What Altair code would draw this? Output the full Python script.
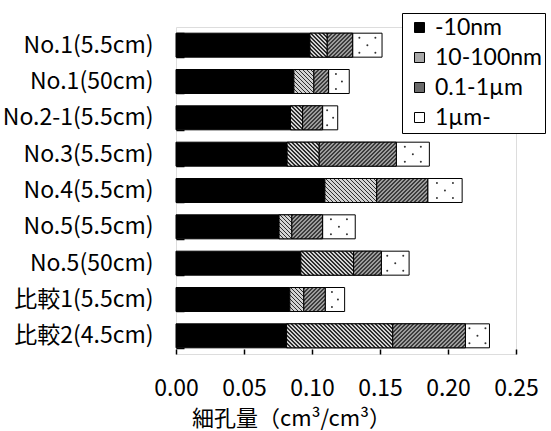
import math
import altair as alt

# Pore volume by pore-size class for each sample (cm3/cm3)
samples = [
    "No.1(5.5cm)", "No.1(50cm)", "No.2-1(5.5cm)", "No.3(5.5cm)", "No.4(5.5cm)",
    "No.5(5.5cm)", "No.5(50cm)", "比較1(5.5cm)", "比較2(4.5cm)",
]
size_classes = ["-10nm", "10-100nm", "0.1-1µm", "1µm-"]
pore_lt10nm = [0.0985, 0.0867, 0.0842, 0.0817, 0.1095, 0.0758, 0.0918, 0.0837, 0.0813]
pore_10_100nm = [0.0127, 0.0147, 0.0089, 0.0236, 0.0381, 0.0094, 0.0388, 0.0103, 0.0781]
pore_01_1um = [0.0187, 0.0108, 0.0147, 0.0567, 0.0375, 0.0226, 0.0204, 0.0157, 0.0534]
pore_gt1um = [0.0216, 0.0152, 0.0111, 0.0243, 0.0253, 0.0240, 0.0204, 0.0143, 0.0177]
x_ticks = [0.00, 0.05, 0.10, 0.15, 0.20, 0.25]

FONT = "Noto Sans CJK JP"
LEGEND_FONT = "Lato"
W, H = 340, 327
X_MAX = 0.25
PAD_INNER, PAD_OUTER = 0.34, 0.17
step = H / (len(samples) - PAD_INNER + 2 * PAD_OUTER)
bar_h = step * (1 - PAD_INNER)
px_per_unit = W / X_MAX

legend_colors = ["#000000", "#a8a8a8", "#6a6a6a", "#ffffff"]
# hatch style per class: (dark, light, dark fraction, rising "/" stripes)
hatch_style = {
    "10-100nm": ("#2e2e2e", "#d2d2d2", 0.38, False),
    "0.1-1µm": ("#3c3c3c", "#9c9c9c", 0.5, True),
}
HATCH_PERIOD = 4.0
DOT_PITCH = 16.0   # horizontal pitch of the dot fill (px)
DOT_ROW = 7.5      # vertical pitch of the dot fill (px)


def hatch_gradient(w, h, dark, light, frac, rising):
    """Diagonal stripes as a hard-stop linear gradient in bounding-box units."""
    span = w + h
    s = span / (w * w + h * h)
    if rising:
        x1, y1, x2, y2 = 0, 0, s * w, s * h
    else:
        x1, y1, x2, y2 = 0, 1, s * w, 1 - s * h
    stops = []
    n = int(math.ceil(span / HATCH_PERIOD))
    for i in range(n):
        a = min(1.0, i * HATCH_PERIOD / span)
        b = min(1.0, (i + frac) * HATCH_PERIOD / span)
        c = min(1.0, (i + 1) * HATCH_PERIOD / span)
        stops += [
            {"offset": round(a, 5), "color": dark},
            {"offset": round(b, 5), "color": dark},
            {"offset": round(b, 5), "color": light},
            {"offset": round(c, 5), "color": light},
        ]
    return {"gradient": "linear", "x1": x1, "y1": y1, "x2": x2, "y2": y2, "stops": stops}


def dot_offsets(w):
    """Staggered (dx, dy) pixel offsets of the dot fill, dy measured from the bar top."""
    n = max(1, int(round(w / DOT_PITCH)))
    c = bar_h / 2
    if n == 1:
        return [(-3, c - DOT_ROW), (3, c), (-3, c + DOT_ROW)]
    pts = []
    for dy in (c - DOT_ROW, c + DOT_ROW):
        pts += [((k - (n - 1) / 2) * DOT_PITCH, dy) for k in range(n)]
    pts += [((k - (n - 2) / 2) * DOT_PITCH, c) for k in range(n - 1)]
    return pts


rows, dots = [], []
for i, name in enumerate(samples):
    parts = [pore_lt10nm[i], pore_10_100nm[i], pore_01_1um[i], pore_gt1um[i]]
    start = 0.0
    for j, (cls, v) in enumerate(zip(size_classes, parts)):
        row = {"sample": name, "cls": cls, "order": j, "start": start, "end": start + v,
               "hatched": cls in hatch_style}
        if cls in hatch_style:
            dark, light, frac, rising = hatch_style[cls]
            row["grad"] = hatch_gradient(v * px_per_unit, bar_h, dark, light, frac, rising)
        if j == 3:
            mid = start + v / 2
            for dx, dy in dot_offsets(v * px_per_unit):
                dots.append({"sample": name, "dot_x": mid + dx / px_per_unit, "dy": dy})
        rows.append(row)
        start += v

data = alt.Data(values=rows)

y_enc = alt.Y(
    "sample:N", sort=samples,
    scale=alt.Scale(paddingInner=PAD_INNER, paddingOuter=PAD_OUTER),
    axis=alt.Axis(
        title=None, orient="left", offset=-8, tickSize=8, tickBand="extent",
        domain=False, ticks=True, tickColor="black", tickWidth=1.5,
        labelPadding=23, labelFont=FONT, labelFontSize=23, labelColor="black",
    ),
)
x_enc = alt.X(
    "start:Q",
    scale=alt.Scale(domain=[0, X_MAX], nice=False),
    axis=alt.Axis(
        values=x_ticks, format=".2f", orient="bottom", offset=-5, tickSize=5,
        domain=False, grid=False, tickColor="black", tickWidth=1.5,
        labelFlush=False, labelOverlap=False,
        labelPadding=23, labelFont=FONT, labelFontSize=23, labelColor="black",
        title="細孔量（cm³/cm³）", titleFont=FONT, titleFontSize=22,
        titleFontWeight="normal", titleColor="black",
        titleX=115, titleY=76, titleAlign="center", titleBaseline="alphabetic",
    ),
)

solid = alt.Chart(data).mark_bar(stroke="black", strokeWidth=1).encode(
    y=y_enc,
    x=x_enc,
    x2="end:Q",
    color=alt.Color(
        "cls:N",
        scale=alt.Scale(domain=size_classes, range=legend_colors),
        legend=alt.Legend(
            title=None, orient="none", legendX=226, legendY=-14,
            symbolType="square", symbolSize=100, symbolStrokeColor="black",
            symbolStrokeWidth=1, symbolOffset=3, labelFont=LEGEND_FONT, labelFontSize=23,
            labelColor="black", labelOffset=4, rowPadding=6, padding=3,
            strokeColor="black", fillColor="white",
        ),
    ),
)

hatched = alt.Chart(data).transform_filter("datum.hatched").mark_bar(
    stroke="black", strokeWidth=1
).encode(
    y=alt.Y("sample:N", sort=samples),
    x=alt.X("start:Q"),
    x2="end:Q",
    fill=alt.Fill("grad:N", scale=None),
)

dotted = alt.Chart(alt.Data(values=dots)).mark_circle(
    size=4, color="#333333", opacity=1
).encode(
    y=alt.Y("sample:N", sort=samples),
    x=alt.X("dot_x:Q"),
    yOffset=alt.YOffset("dy:Q", scale=None),
)

chart = alt.layer(solid, hatched, dotted).properties(
    width=W, height=H,
    autosize=alt.AutoSizeParams(type="none"),
    padding={"left": 176, "top": 27, "right": 35, "bottom": 77},
).configure_view(stroke="black", strokeWidth=1.5).configure(background="white")

chart.save("out.html", embed_options={"renderer": "svg", "actions": False})
